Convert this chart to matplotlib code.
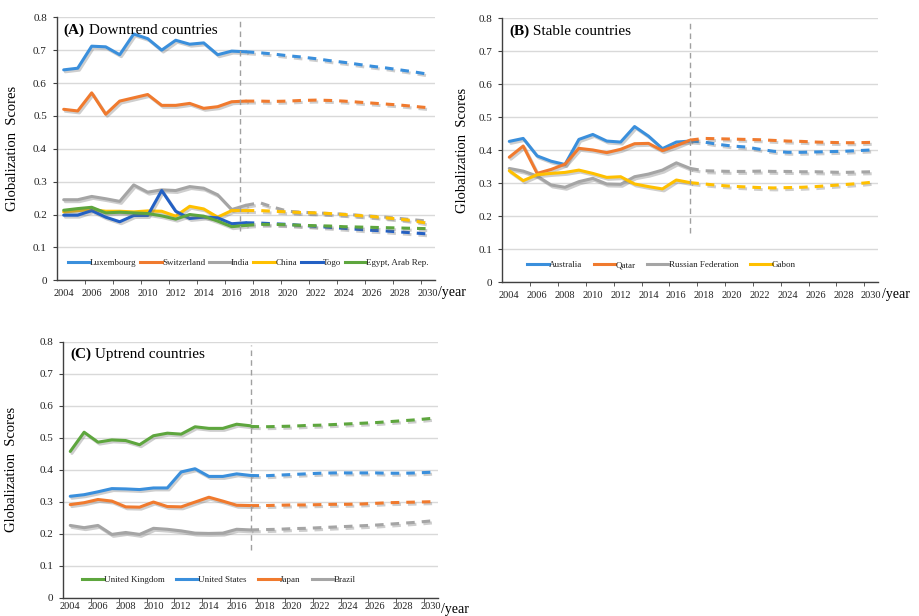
import matplotlib
matplotlib.use("Agg")
import matplotlib.pyplot as plt
import matplotlib.patheffects as pe
import numpy as np
from matplotlib.ticker import FixedLocator, FuncFormatter

plt.rcParams["font.family"] = ["Liberation Serif", "DejaVu Serif"]

hist_years = list(range(2004, 2018))
fcst_years = list(range(2017, 2031))

# ---- (A) Downtrend countries ----
a_names = ["Luxembourg", "Switzerland", "India", "China", "Togo", "Egypt, Arab Rep."]
a_hist = {
    "Luxembourg": [0.640, 0.645, 0.712, 0.710, 0.686, 0.749, 0.735, 0.700, 0.730, 0.718, 0.722, 0.686, 0.697, 0.695],
    "Switzerland": [0.520, 0.515, 0.570, 0.505, 0.545, 0.555, 0.565, 0.532, 0.532, 0.538, 0.523, 0.528, 0.543, 0.545],
    "India": [0.245, 0.245, 0.255, 0.248, 0.240, 0.290, 0.268, 0.275, 0.273, 0.285, 0.280, 0.260, 0.215, 0.228],
    "China": [0.208, 0.212, 0.215, 0.210, 0.210, 0.208, 0.211, 0.210, 0.195, 0.225, 0.217, 0.192, 0.212, 0.212],
    "Togo": [0.198, 0.198, 0.212, 0.192, 0.178, 0.197, 0.197, 0.273, 0.210, 0.188, 0.192, 0.190, 0.172, 0.175],
    "Egypt, Arab Rep.": [0.213, 0.218, 0.222, 0.205, 0.207, 0.205, 0.203, 0.196, 0.186, 0.200, 0.195, 0.180, 0.163, 0.167],
}
a_fcst = {
    "Luxembourg": [0.695, 0.692, 0.688, 0.683, 0.679, 0.674, 0.668, 0.663, 0.657, 0.651, 0.646, 0.640, 0.634, 0.627],
    "Switzerland": [0.545, 0.545, 0.544, 0.545, 0.547, 0.548, 0.547, 0.545, 0.542, 0.539, 0.536, 0.533, 0.529, 0.525],
    "India": [0.228, 0.236, 0.222, 0.210, 0.207, 0.205, 0.203, 0.201, 0.198, 0.195, 0.192, 0.188, 0.184, 0.180],
    "China": [0.212, 0.212, 0.210, 0.208, 0.206, 0.205, 0.203, 0.200, 0.197, 0.194, 0.190, 0.186, 0.181, 0.173],
    "Togo": [0.175, 0.174, 0.172, 0.170, 0.167, 0.164, 0.161, 0.158, 0.155, 0.152, 0.150, 0.147, 0.144, 0.141],
    "Egypt, Arab Rep.": [0.167, 0.170, 0.170, 0.169, 0.167, 0.166, 0.165, 0.163, 0.162, 0.161, 0.160, 0.159, 0.158, 0.157],
}
a_colors = ["#3A8FDC", "#F07A2E", "#A5A5A5", "#FFC000", "#2360C4", "#5EA63E"]

# ---- (B) Stable countries ----
b_names = ["Australia", "Qatar", "Russian Federation", "Gabon"]
b_hist = {
    "Australia": [0.427, 0.436, 0.383, 0.367, 0.357, 0.433, 0.448, 0.428, 0.425, 0.472, 0.443, 0.405, 0.425, 0.428],
    "Qatar": [0.379, 0.413, 0.330, 0.342, 0.358, 0.406, 0.401, 0.393, 0.403, 0.420, 0.421, 0.399, 0.414, 0.431],
    "Russian Federation": [0.345, 0.337, 0.322, 0.295, 0.288, 0.305, 0.315, 0.298, 0.297, 0.320, 0.328, 0.340, 0.362, 0.345],
    "Gabon": [0.338, 0.308, 0.326, 0.330, 0.333, 0.340, 0.330, 0.318, 0.320, 0.298, 0.290, 0.283, 0.310, 0.302],
}
b_fcst = {
    "Australia": [0.428, 0.425, 0.418, 0.413, 0.410, 0.403, 0.397, 0.394, 0.394, 0.395, 0.396, 0.397, 0.399, 0.401],
    "Qatar": [0.431, 0.436, 0.435, 0.434, 0.433, 0.432, 0.430, 0.428, 0.427, 0.425, 0.424, 0.423, 0.423, 0.424],
    "Russian Federation": [0.345, 0.338, 0.337, 0.336, 0.336, 0.337, 0.336, 0.336, 0.335, 0.335, 0.334, 0.333, 0.334, 0.335],
    "Gabon": [0.302, 0.298, 0.294, 0.291, 0.289, 0.287, 0.286, 0.287, 0.288, 0.290, 0.293, 0.296, 0.299, 0.303],
}
b_colors = ["#3A8FDC", "#F07A2E", "#A5A5A5", "#FFC000"]

# ---- (C) Uptrend countries ----
c_names = ["United Kingdom", "United States", "Japan", "Brazil"]
c_hist = {
    "United Kingdom": [0.457, 0.517, 0.486, 0.493, 0.491, 0.478, 0.506, 0.514, 0.511, 0.534, 0.529, 0.529, 0.542, 0.537],
    "United States": [0.317, 0.322, 0.331, 0.341, 0.340, 0.338, 0.343, 0.343, 0.393, 0.403, 0.379, 0.379, 0.387, 0.382],
    "Japan": [0.291, 0.297, 0.307, 0.302, 0.284, 0.283, 0.299, 0.285, 0.284, 0.299, 0.314, 0.302, 0.289, 0.288],
    "Brazil": [0.226, 0.219, 0.226, 0.198, 0.204, 0.198, 0.217, 0.214, 0.209, 0.202, 0.201, 0.202, 0.214, 0.212],
}
c_fcst = {
    "United Kingdom": [0.535, 0.534, 0.535, 0.536, 0.538, 0.539, 0.541, 0.543, 0.545, 0.547, 0.550, 0.553, 0.556, 0.560],
    "United States": [0.382, 0.381, 0.383, 0.385, 0.387, 0.389, 0.390, 0.390, 0.390, 0.390, 0.389, 0.389, 0.390, 0.392],
    "Japan": [0.288, 0.288, 0.289, 0.290, 0.290, 0.291, 0.292, 0.292, 0.293, 0.295, 0.297, 0.298, 0.299, 0.300],
    "Brazil": [0.212, 0.213, 0.214, 0.216, 0.217, 0.219, 0.221, 0.223, 0.225, 0.227, 0.230, 0.233, 0.236, 0.240],
}
c_colors = ["#5EA63E", "#3A8FDC", "#F07A2E", "#A5A5A5"]

y_ticks = [0, 0.1, 0.2, 0.3, 0.4, 0.5, 0.6, 0.7, 0.8]
x_labels = list(range(2004, 2031, 2))

LW = 2.2
shadow = [pe.SimpleLineShadow(offset=(1.2, -1.4), shadow_color="0.45", alpha=0.35), pe.Normal()]

fig = plt.figure(figsize=(9.19, 6.16), dpi=100)


def panel(rect, tag, title, names, hist, fcst, colors, split, leg_anchor, colspace, xpad=6):
    ax = fig.add_axes(rect)
    ax.set_xlim(2003.5, 2030.5)
    ax.set_ylim(0, 0.8)
    ax.yaxis.set_major_locator(FixedLocator(y_ticks))
    ax.yaxis.set_major_formatter(FuncFormatter(lambda v, p: "0" if v == 0 else f"{v:.1f}"))
    ax.grid(axis="y", color="#D9D9D9", lw=1.0)
    ax.set_axisbelow(True)
    for s in ("top", "right"):
        ax.spines[s].set_visible(False)
    for s in ("left", "bottom"):
        ax.spines[s].set_color("#404040")
        ax.spines[s].set_linewidth(1.0)
    ax.xaxis.set_major_locator(FixedLocator(x_labels))
    ax.xaxis.set_minor_locator(FixedLocator(np.arange(2005.5, 2030, 2)))
    ax.tick_params(axis="x", which="major", length=0, pad=xpad, labelsize=7.5, colors="#222222")
    ax.tick_params(axis="x", which="minor", length=3, direction="out", color="#404040")
    ax.tick_params(axis="y", length=3, direction="out", labelsize=8, pad=4,
                   colors="#404040", labelcolor="#222222")

    handles = []
    for name, col in zip(names, colors):
        ax.plot(hist_years, hist[name], color=col, lw=LW, solid_joinstyle="round",
                solid_capstyle="round", path_effects=shadow)
        ax.plot(fcst_years, fcst[name], color=col, lw=LW, dashes=(2.8, 2.3),
                dash_capstyle="butt", path_effects=shadow)
        h, = ax.plot([], [], color=col, lw=LW, label=name)
        handles.append(h)

    ax.vlines(split, 0.15, 0.79, colors="#A0A0A0", lw=1.0, linestyles=(0, (4, 3)))

    leg = ax.legend(handles=handles, loc="center left", bbox_to_anchor=leg_anchor,
                    ncol=len(names), frameon=False, fontsize=6.5, handlelength=2.4,
                    handletextpad=0.0, columnspacing=colspace, borderpad=0, borderaxespad=0)
    for t in leg.get_texts():
        t.set_color("#222222")

    t1 = ax.text(0.018, 0.95, tag, transform=ax.transAxes, fontsize=11,
                 fontweight="bold", va="center", ha="left")
    ax.annotate(" " + title, xy=(1, 0), xycoords=t1, va="bottom", ha="left", fontsize=11)

    ax.set_ylabel("Globalization  Scores", fontsize=10.5)
    ax.text(1.01, -0.047, "/year", transform=ax.transAxes, fontsize=10, va="center", ha="left")
    return ax


axA = panel([0.0617, 0.545, 0.4113, 0.427], "(A)", "Downtrend countries",
            a_names, a_hist, a_fcst, a_colors, 2016.6, (0.03, 0.066), 0.45)
axA.yaxis.set_label_coords(-0.10, 0.5)

axB = panel([0.5466, 0.5417, 0.409, 0.4286], "(B)", "Stable countries",
            b_names, b_hist, b_fcst, b_colors, 2017, (0.066, 0.066), 1.3)
axB.yaxis.set_label_coords(-0.088, 0.5)

axC = panel([0.0689, 0.0295, 0.4074, 0.4160], "(C)", "Uptrend countries",
            c_names, c_hist, c_fcst, c_colors, 2017, (0.05, 0.07), 1.3, xpad=3)
axC.yaxis.set_label_coords(-0.12, 0.5)

fig.savefig("out.png", dpi=100)
